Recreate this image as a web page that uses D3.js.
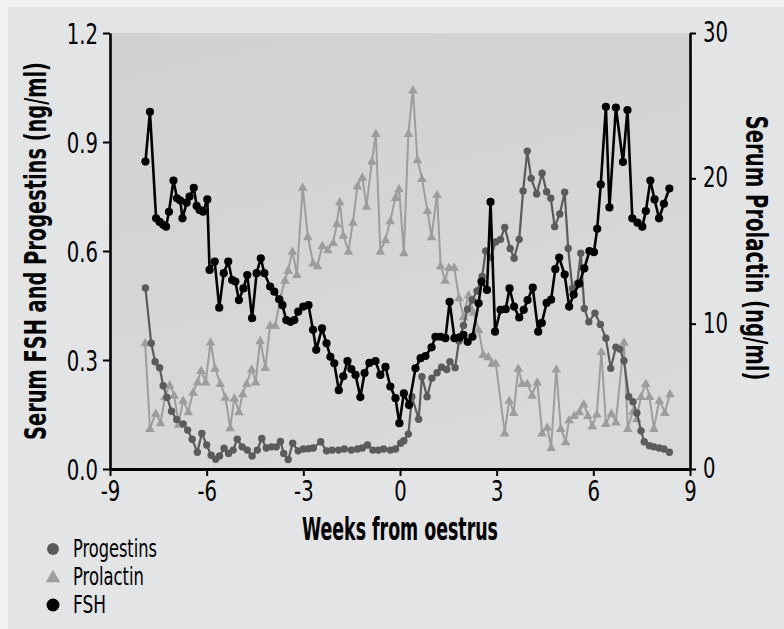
<!DOCTYPE html>
<html><head><meta charset="utf-8">
<script src="https://cdn.jsdelivr.net/npm/d3@7"></script>
<style>
html,body{margin:0;padding:0;background:#f2f2f3;}
svg{display:block;}
text{font-family:"Liberation Sans Narrow","DejaVu Sans Condensed","DejaVu Sans",sans-serif;fill:#000;}
</style></head><body>
<svg id="chart" width="784" height="629"></svg>
<script>
// ---- data (weeks from oestrus) ----
const progWeeks = [-7.90,-7.72,-7.60,-7.46,-7.35,-7.23,-7.09,-6.93,-6.73,-6.59,
  -6.45,-6.29,-6.15,-6.00,-5.86,-5.72,-5.60,-5.46,-5.32,-5.18,
  -5.05,-4.90,-4.74,-4.59,-4.43,-4.29,-4.15,-3.99,-3.84,-3.71,
  -3.61,-3.47,-3.33,-3.16,-3.00,-2.84,-2.69,-2.46,-2.28,-2.11,
  -1.91,-1.73,-1.51,-1.32,-1.17,-1.01,-0.84,-0.67,-0.51,-0.30,
  -0.14,0.02,0.12,0.26,0.37,0.58,0.68,0.84,0.99,1.15,
  1.29,1.45,1.55,1.71,1.83,1.97,2.10,2.24,2.39,2.55,
  2.66,2.81,2.97,3.12,3.25,3.42,3.54,3.70,3.82,3.95,
  4.07,4.24,4.41,4.55,4.68,4.80,4.96,5.11,5.22,5.35,
  5.50,5.61,5.72,5.86,6.05,6.22,6.39,6.54,6.70,6.82,
  6.95,7.10,7.23,7.35,7.48,7.58,7.74,7.88,8.04,8.19,8.36];
const progValues = [0.498,0.346,0.295,0.279,0.229,0.197,0.159,0.136,0.124,0.107,
  0.082,0.046,0.098,0.066,0.038,0.027,0.036,0.057,0.043,0.052,
  0.082,0.061,0.052,0.036,0.052,0.084,0.058,0.061,0.061,0.076,
  0.043,0.026,0.071,0.050,0.055,0.056,0.058,0.075,0.050,0.052,
  0.052,0.055,0.052,0.055,0.058,0.066,0.052,0.052,0.055,0.052,
  0.055,0.071,0.078,0.096,0.199,0.137,0.254,0.199,0.250,0.265,
  0.280,0.274,0.295,0.279,0.352,0.395,0.440,0.465,0.490,0.530,
  0.600,0.582,0.625,0.632,0.665,0.607,0.580,0.632,0.765,0.875,
  0.800,0.757,0.814,0.763,0.745,0.667,0.702,0.762,0.607,0.497,
  0.511,0.594,0.442,0.405,0.429,0.398,0.360,0.277,0.335,0.330,
  0.298,0.199,0.185,0.154,0.105,0.075,0.064,0.061,0.058,0.055,0.046];

const prlWeeks = [-7.91,-7.76,-7.58,-7.43,-7.29,-7.15,-7.01,-6.87,-6.73,-6.57,
  -6.42,-6.28,-6.17,-6.03,-5.88,-5.74,-5.58,-5.42,-5.27,-5.14,
  -5.00,-4.88,-4.76,-4.60,-4.48,-4.34,-4.18,-4.03,-3.87,-3.71,
  -3.57,-3.47,-3.34,-3.20,-3.02,-2.86,-2.70,-2.56,-2.41,-2.24,
  -2.07,-1.96,-1.87,-1.76,-1.60,-1.46,-1.32,-1.17,-1.04,-0.87,
  -0.75,-0.61,-0.45,-0.30,-0.14,-0.03,0.12,0.26,0.40,0.54,
  0.68,0.85,0.98,1.15,1.26,1.40,1.52,1.68,1.83,1.97,
  2.13,2.28,2.44,2.58,2.74,2.86,2.97,3.25,3.39,3.53,
  3.67,3.79,3.95,4.10,4.26,4.41,4.57,4.69,4.85,4.99,
  5.14,5.25,5.41,5.56,5.70,5.83,5.97,6.11,6.25,6.39,
  6.56,6.70,6.95,7.07,7.23,7.35,7.48,7.63,7.74,7.88,
  8.05,8.22,8.38];
const prlValues = [8.7,2.8,3.85,3.2,5.0,5.8,5.1,3.1,4.75,3.95,
  5.3,6.0,6.8,6.0,8.75,6.95,5.9,4.95,2.85,4.9,
  3.95,5.2,5.9,6.9,6.0,8.85,7.0,9.9,9.9,11.8,
  13.0,13.7,15.0,13.4,19.4,16.0,14.2,14.0,15.4,15.1,
  15.6,16.9,18.4,16.1,15.0,17.0,19.5,20.1,18.1,21.2,
  23.1,15.0,15.8,17.1,18.7,19.3,14.9,23.1,26.1,21.3,
  20.0,17.8,16.0,18.9,14.0,13.0,13.9,13.9,11.8,10.5,
  12.0,10.8,9.6,7.9,7.75,7.3,7.3,2.5,4.75,3.9,
  6.95,5.9,5.9,5.1,6.0,2.5,2.9,1.5,6.9,2.8,
  1.9,3.4,3.7,3.95,4.5,3.7,3.0,3.8,8.1,3.15,
  3.85,3.25,8.75,2.8,4.0,3.5,5.0,5.9,5.0,2.8,
  4.75,3.9,5.2];

const fshWeeks = [-7.90,-7.76,-7.57,-7.46,-7.35,-7.26,-7.17,-7.03,-6.92,-6.82,
  -6.75,-6.62,-6.53,-6.40,-6.31,-6.22,-6.11,-5.98,-5.91,-5.75,
  -5.61,-5.47,-5.33,-5.21,-5.11,-5.00,-4.86,-4.74,-4.59,-4.45,
  -4.32,-4.21,-4.03,-3.90,-3.75,-3.65,-3.53,-3.40,-3.28,-3.16,
  -3.00,-2.84,-2.70,-2.60,-2.42,-2.28,-2.16,-2.04,-1.90,-1.76,
  -1.63,-1.51,-1.38,-1.23,-1.10,-0.95,-0.76,-0.61,-0.45,-0.30,
  -0.14,-0.02,0.12,0.28,0.48,0.64,0.79,0.98,1.10,1.26,
  1.41,1.54,1.69,1.85,1.97,2.10,2.25,2.44,2.53,2.70,
  2.81,2.95,3.12,3.28,3.40,3.54,3.70,3.84,3.96,4.12,
  4.29,4.40,4.55,4.69,4.82,4.94,5.11,5.25,5.39,5.56,
  5.72,5.88,6.02,6.12,6.23,6.39,6.50,6.70,6.92,7.06,
  7.21,7.37,7.52,7.63,7.77,7.90,8.04,8.19,8.36];
const fshValues = [0.846,0.983,0.690,0.680,0.672,0.667,0.708,0.794,0.745,0.739,
  0.690,0.733,0.750,0.774,0.724,0.713,0.708,0.742,0.548,0.571,
  0.444,0.539,0.571,0.520,0.516,0.465,0.497,0.534,0.415,0.539,
  0.580,0.539,0.502,0.488,0.467,0.451,0.410,0.405,0.410,0.433,
  0.447,0.451,0.383,0.328,0.387,0.346,0.309,0.291,0.217,0.255,
  0.297,0.275,0.259,0.198,0.264,0.292,0.297,0.259,0.281,0.227,
  0.195,0.126,0.208,0.176,0.277,0.305,0.311,0.335,0.364,0.364,
  0.360,0.460,0.360,0.362,0.369,0.350,0.364,0.456,0.516,0.493,
  0.735,0.378,0.438,0.440,0.497,0.447,0.417,0.438,0.465,0.499,
  0.378,0.402,0.457,0.466,0.550,0.582,0.535,0.447,0.480,0.510,
  0.552,0.600,0.597,0.661,0.783,0.997,0.720,0.995,0.845,0.988,
  0.690,0.678,0.667,0.710,0.794,0.742,0.690,0.730,0.772];

const xTicks = [-9,-6,-3,0,3,6,9];
const yLeftTicks = [0,0.3,0.6,0.9,1.2];
const yRightTicks = [0,10,20,30];
const seriesNames = ["Progestins","Prolactin","FSH"];
const xTitle = "Weeks from oestrus";
const yLeftTitle = "Serum FSH and Progestins (ng/ml)";
const yRightTitle = "Serum Prolactin (ng/ml)";

// ---- drawing ----
const W = 784, H = 629;
const P = {left:110, right:690, top:33, bottom:469};
const colProg = "#5b5b5d", colPrl = "#9c9d9f", colFsh = "#000000";
const SX = 0.78; // horizontal squeeze for condensed look

const svg = d3.select("#chart");
const x = d3.scaleLinear().domain([-9, 9]).range([P.left, P.right]);
const yL = d3.scaleLinear().domain([0, 1.2]).range([P.bottom, P.top]);
const yR = d3.scaleLinear().domain([0, 30]).range([P.bottom, P.top]);

const defs = svg.append("defs");
const grad = defs.append("linearGradient").attr("id", "plotbg")
  .attr("x1", 0).attr("y1", 0).attr("x2", 0.3).attr("y2", 1);
grad.append("stop").attr("offset", 0).attr("stop-color", "#d0d1d3");
grad.append("stop").attr("offset", 1).attr("stop-color", "#d8d9db");

svg.append("rect").attr("x", 8).attr("y", 7).attr("width", W - 8).attr("height", H - 7).attr("fill", "#e3e4e6");
svg.append("rect").attr("x", P.left).attr("y", P.top)
  .attr("width", P.right - P.left).attr("height", P.bottom - P.top).attr("fill", "url(#plotbg)");

const progData = progWeeks.map((w, i) => ({w, v: progValues[i]}));
const prlData = prlWeeks.map((w, i) => ({w, v: prlValues[i]}));
const fshData = fshWeeks.map((w, i) => ({w, v: fshValues[i]}));

const lineL = d3.line().x(d => x(d.w)).y(d => yL(d.v));
const lineR = d3.line().x(d => x(d.w)).y(d => yR(d.v));

// Prolactin
svg.append("path").datum(prlData).attr("d", lineR).attr("fill", "none")
  .attr("stroke", colPrl).attr("stroke-width", 2).attr("stroke-linejoin", "round");
svg.append("g").selectAll("path").data(prlData).join("path")
  .attr("transform", d => `translate(${x(d.w)},${yR(d.v) + 1})`)
  .attr("d", d3.symbol(d3.symbolTriangle).size(40)).attr("fill", colPrl);

// Progestins
svg.append("path").datum(progData).attr("d", lineL).attr("fill", "none")
  .attr("stroke", colProg).attr("stroke-width", 2.2).attr("stroke-linejoin", "round");
svg.append("g").selectAll("circle").data(progData).join("circle")
  .attr("cx", d => x(d.w)).attr("cy", d => yL(d.v)).attr("r", 3.7).attr("fill", colProg);

// FSH
svg.append("path").datum(fshData).attr("d", lineL).attr("fill", "none")
  .attr("stroke", colFsh).attr("stroke-width", 2.6).attr("stroke-linejoin", "round");
svg.append("g").selectAll("circle").data(fshData).join("circle")
  .attr("cx", d => x(d.w)).attr("cy", d => yL(d.v)).attr("r", 4.1).attr("fill", colFsh);

// Axes
function styleAxis(g) {
  g.select(".domain").attr("stroke", "#000").attr("stroke-width", 2.6);
  g.selectAll(".tick line").attr("stroke", "#000").attr("stroke-width", 2);
  g.selectAll(".tick text").attr("font-size", 28)
    .attr("font-family", null).attr("fill", "#000")
    .each(function () {
      const t = d3.select(this);
      const x0 = +t.attr("x") || 0;
      t.attr("x", x0 / SX).attr("transform", `scale(${SX},1)`);
    });
}
const gL = svg.append("g").attr("transform", `translate(${P.left},0)`)
  .call(d3.axisLeft(yL).tickValues(yLeftTicks).tickFormat(d3.format(".1f"))
    .tickSizeInner(7).tickSizeOuter(0).tickPadding(5));
styleAxis(gL);
gL.selectAll(".tick text").attr("dy", "0.36em");

const gR = svg.append("g").attr("transform", `translate(${P.right},0)`)
  .call(d3.axisRight(yR).tickValues(yRightTicks).tickFormat(d => String(d))
    .tickSizeInner(6).tickSizeOuter(0).tickPadding(7));
styleAxis(gR);
gR.selectAll(".tick text").attr("dy", "0.3em");

const gB = svg.append("g").attr("transform", `translate(0,${P.bottom})`)
  .call(d3.axisBottom(x).tickValues(xTicks).tickFormat(d => String(d))
    .tickSizeInner(7).tickSizeOuter(0).tickPadding(5));
styleAxis(gB);
gB.select(".domain").attr("stroke-width", 3);

// text fitted to a target width via a horizontal scale
function fitted(parent, str, size, weight, width, tx, ty, rot, anchor) {
  const t = parent.append("text").attr("font-size", size).attr("font-weight", weight)
    .attr("text-anchor", anchor).text(str);
  const w0 = t.node().getComputedTextLength();
  t.attr("transform", `translate(${tx},${ty}) rotate(${rot}) scale(${width / w0},1)`);
  return t;
}

// Titles
fitted(svg, xTitle, 32, "bold", 196, x(0), 540, 0, "middle");
fitted(svg, yLeftTitle, 30, "bold", 378, 46, 251, -90, "middle");
fitted(svg, yRightTitle, 30, "bold", 265, 746, 248, 90, "middle");

// Legend
const legend = svg.append("g");
const legY = [549, 577, 605];
const legW = [84, 71, 33];
const legX = 53;
legend.append("circle").attr("cx", legX).attr("cy", legY[0]).attr("r", 6).attr("fill", colProg);
legend.append("path").attr("transform", `translate(${legX},${legY[1] + 1})`)
  .attr("d", d3.symbol(d3.symbolTriangle).size(90)).attr("fill", colPrl);
legend.append("circle").attr("cx", legX).attr("cy", legY[2]).attr("r", 6.5).attr("fill", colFsh);
seriesNames.forEach((s, i) => fitted(legend, s, 25, "normal", legW[i], 73, legY[i] + 8, 0, "start"));
</script>
</body></html>
